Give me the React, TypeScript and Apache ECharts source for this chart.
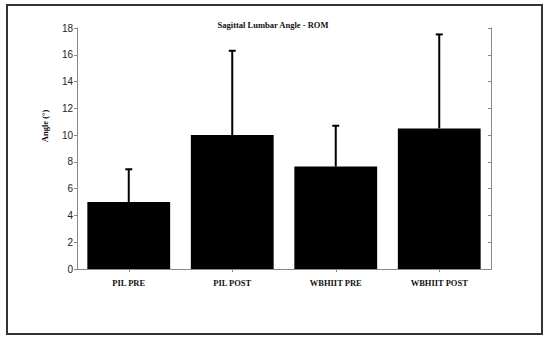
import React, { useEffect, useRef } from "react";
import * as echarts from "echarts";

const categories = ["PIL PRE", "PIL POST", "WBHIIT PRE", "WBHIIT POST"];
const means = [5.0, 10.0, 7.65, 10.5];
const errorTops = [7.45, 16.3, 10.7, 17.52];
const yTicks = [0, 2, 4, 6, 8, 10, 12, 14, 16, 18];

export default function App() {
  const ref = useRef<HTMLDivElement>(null);
  useEffect(() => {
    if (!ref.current) return;
    const chart = echarts.init(ref.current, null, { renderer: "svg" });
    const errData = categories.map((_, i) => [i, means[i], errorTops[i]]);
    chart.setOption({
      animation: false,
      backgroundColor: "#fff",
      title: {
        text: "Sagittal Lumbar Angle - ROM",
        left: 268,
        top: 15,
        textAlign: "center",
        textStyle: { fontFamily: "Liberation Serif", fontWeight: "bold", fontSize: 8.5, color: "#111" },
      },
      graphic: [
        {
          type: "rect",
          shape: { x: 7, y: 5, width: 535, height: 329 },
          style: { fill: "none", stroke: "#333", lineWidth: 2 },
          silent: true,
        },
        {
          type: "text",
          x: 45,
          y: 126,
          rotation: Math.PI / 2,
          style: {
            text: "Angle (°)",
            fontFamily: "Liberation Serif",
            fontWeight: "bold",
            fontSize: 8.5,
            fill: "#111",
            textAlign: "center",
            textVerticalAlign: "middle",
          },
        },
      ],
      grid: { left: 77, right: 59, top: 28, bottom: 72, show: false },
      xAxis: [
        {
          type: "category",
          data: categories,
          position: "bottom",
          axisLine: { lineStyle: { color: "#888", width: 1 } },
          axisTick: { show: false },
          axisLabel: {
            margin: 9,
            fontFamily: "Liberation Serif",
            fontWeight: "bold",
            fontSize: 8.5,
            color: "#111",
          },
        },
        {
          type: "category",
          data: categories,
          position: "top",
          axisLine: { show: true, lineStyle: { color: "#888", width: 1 } },
          axisTick: { show: true, alignWithLabel: true, inside: true, length: 3, lineStyle: { color: "#888" } },
          axisLabel: { show: false },
        },
      ],
      yAxis: [
        {
          type: "value",
          min: 0,
          max: 18,
          interval: 2,
          position: "left",
          splitLine: { show: false },
          axisLine: { show: true, lineStyle: { color: "#888", width: 1 } },
          axisTick: { show: true, length: 3, lineStyle: { color: "#888" } },
          axisLabel: {
            margin: 4,
            fontFamily: "Liberation Sans",
            fontSize: 10,
            color: "#222",
            formatter: (v: number) => (yTicks.includes(v) ? String(v) : ""),
          },
        },
        {
          type: "value",
          min: 0,
          max: 18,
          interval: 2,
          position: "right",
          splitLine: { show: false },
          axisLine: { show: true, lineStyle: { color: "#888", width: 1 } },
          axisTick: { show: true, inside: true, length: 3, lineStyle: { color: "#888" } },
          axisLabel: { show: false },
        },
      ],
      series: [
        {
          type: "bar",
          data: means,
          barWidth: "80%",
          itemStyle: { color: "#000" },
          z: 2,
        },
        {
          type: "custom",
          data: errData,
          z: 3,
          renderItem: (params: any, api: any) => {
            const x = api.value(0);
            const lo = api.coord([x, api.value(1)]);
            const hi = api.coord([x, api.value(2)]);
            return {
              type: "group",
              children: [
                {
                  type: "line",
                  shape: { x1: lo[0], y1: lo[1], x2: hi[0], y2: hi[1] },
                  style: { stroke: "#000", lineWidth: 2 },
                },
                {
                  type: "line",
                  shape: { x1: hi[0] - 3.5, y1: hi[1], x2: hi[0] + 3.5, y2: hi[1] },
                  style: { stroke: "#000", lineWidth: 2 },
                },
              ],
            };
          },
        },
      ],
    });
    return () => chart.dispose();
  }, []);
  return <div ref={ref} style={{ width: 550, height: 341, position: "absolute", left: 0, top: 0 }} />;
}
